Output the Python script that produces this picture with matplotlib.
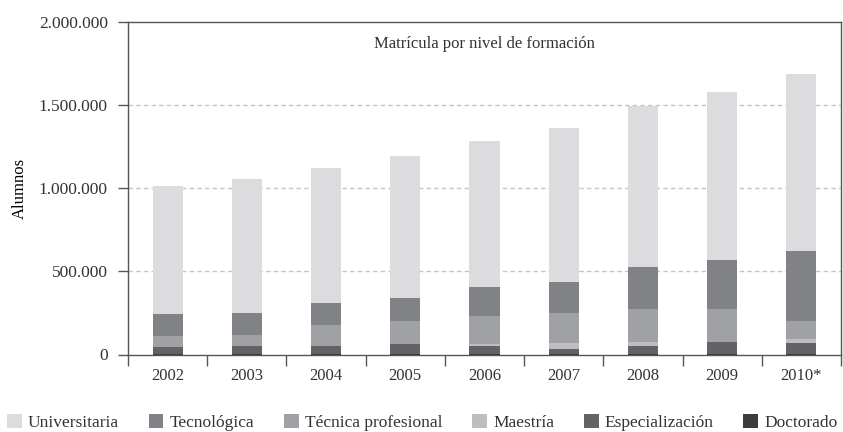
import matplotlib
matplotlib.use("Agg")
import matplotlib.pyplot as plt
from matplotlib.ticker import FuncFormatter, FixedLocator
import numpy as np

years = ["2002", "2003", "2004", "2005", "2006", "2007", "2008", "2009", "2010*"]

# enrollment by level (students), bottom of stack first
doctorado = [1000, 1100, 1300, 1500, 1700, 1900, 2200, 2600, 2900]
especializacion = [44000, 50000, 50000, 61000, 49000, 31000, 49000, 72000, 66000]
maestria = [0, 0, 0, 0, 12000, 36000, 24000, 0, 24000]
tecnica_profesional = [66000, 66000, 126000, 138000, 168000, 180000, 198000, 198000, 108000]
tecnologica = [132000, 132000, 132000, 138000, 174000, 186000, 252000, 294000, 420000]
universitaria = [768000, 804000, 810000, 858000, 882000, 930000, 972000, 1014000, 1068000]

series = [
    ("Doctorado", doctorado, "#3c3c3d"),
    ("Especialización", especializacion, "#636365"),
    ("Maestría", maestria, "#bdbec0"),
    ("Técnica profesional", tecnica_profesional, "#a0a1a4"),
    ("Tecnológica", tecnologica, "#818285"),
    ("Universitaria", universitaria, "#dcdcde"),
]

text_color = "#333333"
plt.rcParams["font.family"] = ["Liberation Serif", "DejaVu Serif"]
plt.rcParams["font.size"] = 12
plt.rcParams["text.color"] = text_color
plt.rcParams["xtick.color"] = "#555555"
plt.rcParams["ytick.color"] = "#555555"
plt.rcParams["xtick.labelcolor"] = text_color
plt.rcParams["ytick.labelcolor"] = text_color

fig = plt.figure(figsize=(8.43, 4.32), dpi=100)
ax = fig.add_axes([128 / 843, 1 - 354.5 / 432, (841 - 128) / 843, (354.5 - 22) / 432])

x = np.arange(len(years))
bottom = np.zeros(len(years))
handles = {}
for name, values, color in series:
    bars = ax.bar(x, values, width=0.38, bottom=bottom, color=color, zorder=3, linewidth=0)
    handles[name] = bars
    bottom += np.array(values)

ax.set_xlim(-0.5, len(years) - 0.5)
ax.set_ylim(0, 2000000)
ax.set_yticks([0, 500000, 1000000, 1500000, 2000000])
ax.yaxis.set_major_formatter(FuncFormatter(lambda v, p: f"{int(v):,}".replace(",", ".")))
for yv in [500000, 1000000, 1500000]:
    ax.axhline(yv, color="#c6c6c8", linewidth=1.0, dashes=(3.3, 2.2), zorder=1)

ax.set_xticks(x)
ax.set_xticklabels(years)
ax.xaxis.set_minor_locator(FixedLocator(np.arange(-0.5, len(years), 1.0)))
ax.tick_params(axis="x", which="major", length=0, pad=9.5)
ax.tick_params(axis="x", which="minor", length=8, width=1.0, direction="out")
ax.tick_params(axis="y", length=7.5, width=1.0, direction="out", pad=7)
ax.tick_params(axis="y", labelsize=12.5)

for side in ["left", "right", "top", "bottom"]:
    ax.spines[side].set_color("#555555")
    ax.spines[side].set_linewidth(1.0)

ax.set_ylabel("Alumnos", labelpad=8)
ax.text(0.5, 0.934, "Matrícula por nivel de formación", transform=ax.transAxes,
        ha="center", va="center", fontsize=12)

order = ["Universitaria", "Tecnológica", "Técnica profesional", "Maestría", "Especialización", "Doctorado"]
fig.legend([handles[n] for n in order], order, loc="lower left", bbox_to_anchor=(0.008, 0.002),
           ncol=6, frameon=False, borderpad=0, borderaxespad=0, handlelength=0.86, handleheight=0.86,
           handletextpad=0.36, columnspacing=1.7, fontsize=12.5)

fig.savefig("out.png", dpi=100)
